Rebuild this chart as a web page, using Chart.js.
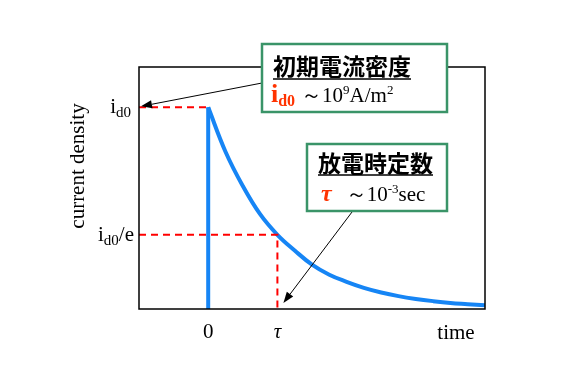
<!DOCTYPE html>
<html><head><meta charset="utf-8">
<script src="https://cdn.jsdelivr.net/npm/chart.js@4"></script>
<style>html,body{margin:0;padding:0;background:#fff;overflow:hidden}</style>
</head><body>
<canvas id="c" width="567" height="378"></canvas>
<script>
// time in units of tau, current density relative to i_d0
const timeValues = [0, 0.25, 0.5, 0.75, 1, 1.25, 1.5, 1.75, 2, 2.25, 2.5, 2.75, 3, 3.25, 3.5, 3.75, 4];
const densityValues = [1, 0.78, 0.61, 0.47, 0.368, 0.29, 0.22, 0.17, 0.135, 0.105, 0.082, 0.064, 0.05, 0.039, 0.03, 0.024, 0.018];
const stepTimes = [0, 0];
const stepValues = [0, 1];
const xTickValues = [0, 1];
const xTickLabels = ['0', 'τ'];
const levelI0 = 1;
const levelI0e = 0.368;
const xMin = -1, xMax = 4, yMin = 0, yMax = 1.2;

const pts = (xs, ys) => xs.map((x, i) => ({x, y: ys[i]}));
const RED = '#ff0000', BLUE = '#1685f5', GREEN = '#3a9468';
const SERIF = '"Liberation Serif", "Times New Roman", serif';
const CJK = '"Noto Sans CJK JP", sans-serif';

function runs(ctx, x, y, parts, align) {
  let w = 0;
  parts.forEach(p => { ctx.font = p.font; w += ctx.measureText(p.t).width + (p.gap || 0); });
  let cx = align === 'right' ? x - w : align === 'center' ? x - w / 2 : x;
  parts.forEach(p => {
    ctx.font = p.font; ctx.fillStyle = p.color || '#000';
    ctx.fillText(p.t, cx, y + (p.dy || 0));
    cx += ctx.measureText(p.t).width + (p.gap || 0);
  });
  return w;
}
function arrow(ctx, x1, y1, x2, y2) {
  const a = Math.atan2(y2 - y1, x2 - x1), L = 11, W = 4;
  ctx.strokeStyle = '#000'; ctx.fillStyle = '#000'; ctx.lineWidth = 1;
  ctx.beginPath(); ctx.moveTo(x1, y1); ctx.lineTo(x2 - L * Math.cos(a), y2 - L * Math.sin(a)); ctx.stroke();
  ctx.beginPath(); ctx.moveTo(x2, y2);
  ctx.lineTo(x2 - L * Math.cos(a) + W * Math.sin(a), y2 - L * Math.sin(a) - W * Math.cos(a));
  ctx.lineTo(x2 - L * Math.cos(a) - W * Math.sin(a), y2 - L * Math.sin(a) + W * Math.cos(a));
  ctx.closePath(); ctx.fill();
}

const deco = {
  id: 'deco',
  afterDraw(chart) {
    const {ctx, chartArea: ca, scales: {x, y}} = chart;
    ctx.save();
    ctx.strokeStyle = '#000'; ctx.lineWidth = 1.5;
    ctx.strokeRect(ca.left, ca.top, ca.right - ca.left, ca.bottom - ca.top);
    ctx.textBaseline = 'alphabetic';
    // x tick labels
    ctx.textAlign = 'left';
    runs(ctx, x.getPixelForValue(xTickValues[0]), 338, [{t: xTickLabels[0], font: '21px ' + SERIF}], 'center');
    runs(ctx, x.getPixelForValue(xTickValues[1]), 338, [{t: xTickLabels[1], font: 'italic 21px ' + SERIF}], 'center');
    runs(ctx, 456, 339, [{t: 'time', font: '21px ' + SERIF}], 'center');
    // y labels
    const yi = y.getPixelForValue(levelI0), ye = y.getPixelForValue(levelI0e);
    runs(ctx, 131, yi + 6, [{t: 'i', font: '21px ' + SERIF}, {t: 'd0', font: '15px ' + SERIF, dy: 4}], 'right');
    runs(ctx, 134, ye + 6, [{t: 'i', font: '21px ' + SERIF}, {t: 'd0', font: '15px ' + SERIF, dy: 4}, {t: '/e', font: '21px ' + SERIF}], 'right');
    // y title
    ctx.save(); ctx.translate(84, 166); ctx.rotate(-Math.PI / 2);
    runs(ctx, 0, 0, [{t: 'current density', font: '21px ' + SERIF}], 'center');
    ctx.restore();
    // arrows
    arrow(ctx, 262, 83, ca.left + 2, yi - 1);
    arrow(ctx, 352, 212, x.getPixelForValue(1) + 6, ca.bottom - 6);
    // boxes
    ctx.fillStyle = '#fff'; ctx.strokeStyle = GREEN; ctx.lineWidth = 2.5;
    ctx.fillRect(262, 44, 185, 68); ctx.strokeRect(262, 44, 185, 68);
    ctx.fillStyle = '#fff';
    ctx.fillRect(307, 144, 140, 67); ctx.strokeRect(307, 144, 140, 67);
    // box1 text
    ctx.textBaseline = 'middle';
    let w = runs(ctx, 273, 66, [{t: '初期電流密度', font: 'bold 23px ' + CJK}]);
    ctx.strokeStyle = '#000'; ctx.lineWidth = 1.5;
    ctx.beginPath(); ctx.moveTo(273, 79); ctx.lineTo(273 + w, 79); ctx.stroke();
    ctx.textBaseline = 'alphabetic';
    runs(ctx, 271, 102, [
      {t: 'i', font: 'bold 26px ' + SERIF, color: '#ff3300'},
      {t: 'd0', font: 'bold 16px ' + SERIF, color: '#ff3300', dy: 4, gap: 6},
      {t: '～10', font: '21px ' + SERIF},
      {t: '9', font: '13px ' + SERIF, dy: -8},
      {t: 'A/m', font: '21px ' + SERIF},
      {t: '2', font: '13px ' + SERIF, dy: -8}
    ]);
    // box2 text
    ctx.textBaseline = 'middle';
    w = runs(ctx, 318, 163, [{t: '放電時定数', font: 'bold 23px ' + CJK}]);
    ctx.beginPath(); ctx.moveTo(318, 175); ctx.lineTo(318 + w, 175); ctx.stroke();
    ctx.textBaseline = 'alphabetic';
    runs(ctx, 321, 201, [
      {t: 'τ', font: 'bold italic 24px ' + SERIF, color: '#ff3300', gap: 14},
      {t: '～10', font: '21px ' + SERIF},
      {t: '-3', font: '13px ' + SERIF, dy: -8},
      {t: 'sec', font: '21px ' + SERIF}
    ]);
    ctx.restore();
  }
};

new Chart(document.getElementById('c'), {
  type: 'scatter',
  data: {
    datasets: [
      {data: pts(timeValues, densityValues), showLine: true, borderColor: BLUE, borderWidth: 4, pointRadius: 0, tension: 0.4, order: 1},
      {data: pts(stepTimes, stepValues), showLine: true, borderColor: BLUE, borderWidth: 4, pointRadius: 0, order: 1},
      {data: [{x: xMin, y: levelI0}, {x: 0, y: levelI0}], showLine: true, borderColor: RED, borderWidth: 2, borderDash: [7, 5], pointRadius: 0, order: 0},
      {data: [{x: xMin, y: levelI0e}, {x: 1, y: levelI0e}, {x: 1, y: yMin}], showLine: true, borderColor: RED, borderWidth: 2, borderDash: [7, 5], pointRadius: 0, order: 0}
    ]
  },
  options: {
    responsive: false, animation: false, devicePixelRatio: 1,
    layout: {padding: {left: 139, right: 82, top: 67, bottom: 69}},
    plugins: {legend: {display: false}, tooltip: {enabled: false}},
    scales: {
      x: {type: 'linear', min: xMin, max: xMax, display: false},
      y: {type: 'linear', min: yMin, max: yMax, display: false}
    }
  },
  plugins: [deco]
});
</script>
</body></html>
